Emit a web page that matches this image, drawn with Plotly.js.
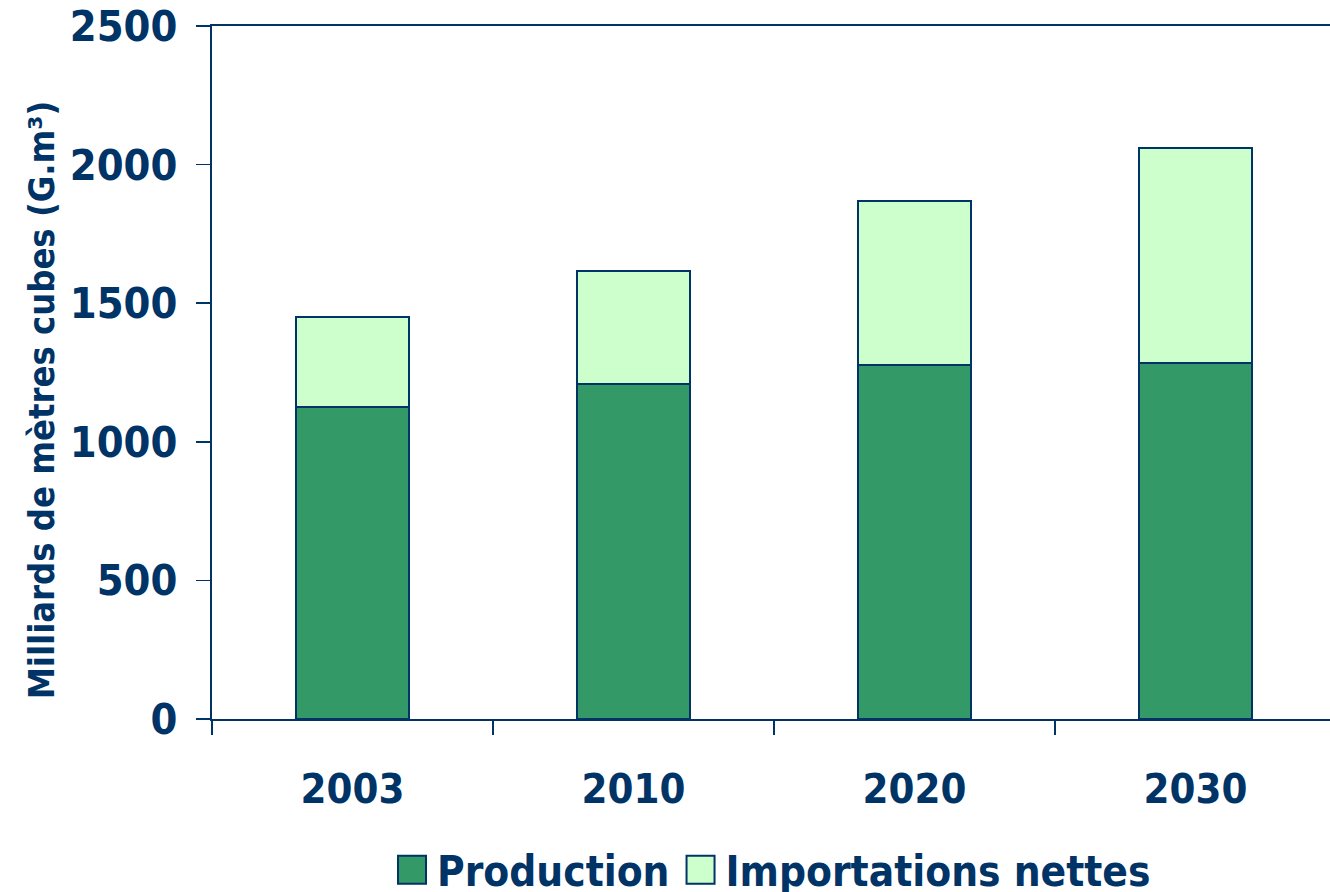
<!DOCTYPE html>
<html>
<head>
<meta charset="utf-8">
<script src="https://cdn.plot.ly/plotly-3.0.1.min.js"></script>
<style>
html,body{margin:0;padding:0;overflow:hidden;background:#fff;}
#chart{width:1336px;height:892px;}
</style>
</head>
<body>
<div id="chart"></div>
<script>
const years = ["2003", "2010", "2020", "2030"];
const production = [1125, 1208, 1277, 1284];
const imports = [325, 408, 592, 776];
const seriesNames = ["Production", "Importations nettes"];
const yTicks = [0, 500, 1000, 1500, 2000, 2500];

const navy = "#003366";
const FONT = "DejaVu Sans Condensed, DejaVu Sans, sans-serif";

const traces = [
  {type: "bar", name: seriesNames[0], x: years, y: production,
   marker: {color: "#339966", line: {color: navy, width: 2}}, hoverinfo: "y"},
  {type: "bar", name: seriesNames[1], x: years, y: imports,
   marker: {color: "#CCFFCC", line: {color: navy, width: 2}}, hoverinfo: "y"}
];

const layout = {
  width: 1336, height: 892,
  margin: {l: 212, r: 0, t: 26, b: 173, autoexpand: false},
  paper_bgcolor: "#fff", plot_bgcolor: "#fff",
  barmode: "stack", bargap: 0.6,
  font: {family: FONT, color: navy, size: 40, weight: "bold"},
  showlegend: true,
  legend: {orientation: "h", x: 0.1646, xanchor: "left", y: -0.218, yanchor: "middle",
           font: {family: FONT, size: 42, color: navy, weight: "bold"}, traceorder: "normal",
           itemwidth: 30},
  xaxis: {type: "category", showline: true, linecolor: navy, linewidth: 2, mirror: true,
          ticks: "outside", tickson: "boundaries", ticklen: 14, tickwidth: 1.5, tickcolor: navy,
          tickfont: {family: FONT, size: 41.5, color: navy, weight: "bold"},
          ticklabelstandoff: 32, showgrid: false, zeroline: false, fixedrange: true},
  yaxis: {range: [0, 2500], tickvals: yTicks, ticktext: yTicks.map(String),
          showline: true, linecolor: navy, linewidth: 2,
          ticks: "outside", ticklen: 14, tickwidth: 1.5, tickcolor: navy,
          tickfont: {family: FONT, size: 43, color: navy, weight: "bold"},
          ticklabelstandoff: 10, ticklabeloverflow: "allow",
          showgrid: false, zeroline: false, fixedrange: true},
  annotations: [{
    text: "Milliards de mètres cubes (G.m³)", textangle: -90,
    xref: "paper", yref: "paper", x: -0.152, y: 0.46, xanchor: "center", yanchor: "middle",
    showarrow: false, font: {family: FONT, size: 36, color: navy, weight: "bold"}
  }]
};

Plotly.newPlot("chart", traces, layout, {displayModeBar: false, staticPlot: true}).then(function(){
  document.querySelectorAll("#chart .legendpoints path").forEach(function(p){
    p.setAttribute("d", "M9,14H-19V-14H9Z");
  });
  document.querySelectorAll("#chart .legend .scrollbox, #chart .legend").forEach(function(el){
    el.removeAttribute("clip-path");
  });
  const items = document.querySelectorAll("#chart .legend .traces");
  if (items.length > 1) {
    const t = items[1].getAttribute("transform") || "";
    const m = t.match(/translate\(([-\d.]+)[ ,]+([-\d.]+)\)/);
    if (m) items[1].setAttribute("transform", "translate(" + (parseFloat(m[1]) + 11) + "," + m[2] + ")");
  }
});
</script>
</body>
</html>
